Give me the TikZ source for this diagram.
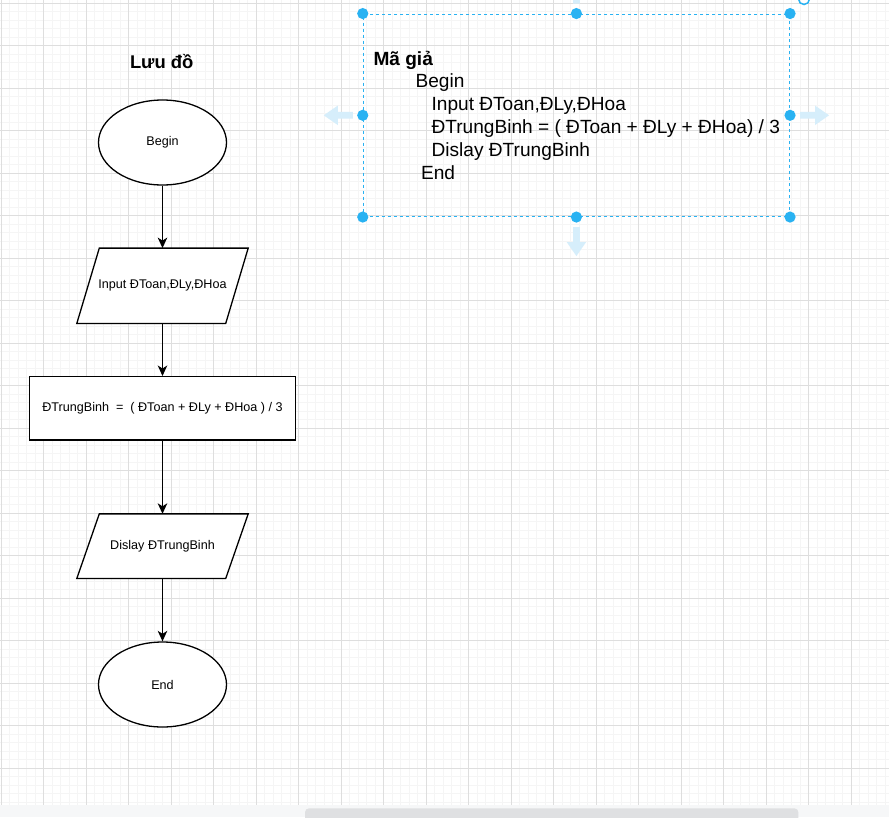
\documentclass[tikz,border=0pt]{standalone}
\usepackage{fontspec}
\setmainfont{Liberation Sans}
\usetikzlibrary{shapes.geometric,arrows.meta}
\definecolor{gridmajor}{RGB}{222,222,222}
\definecolor{gridminor}{RGB}{245,245,245}
\definecolor{selblue}{RGB}{41,178,242}
\definecolor{hintblue}{RGB}{214,238,251}
\definecolor{barbg}{RGB}{246,247,248}
\definecolor{thumbgray}{RGB}{223,224,226}
\tikzset{
  shapeline/.style={draw=black, line width=1.3pt},
  flowtext/.style={font=\fontsize{12.6}{15}\selectfont, text=black, inner sep=0pt},
  ellipsebox/.style={ellipse, shapeline, fill=white, minimum width=128pt, minimum height=85pt, flowtext},
  rectbox/.style={rectangle, shapeline, fill=white, flowtext},
  paraframe/.style={rectangle, flowtext, minimum width=171pt},
  flow/.style={line width=1.4pt, -{Stealth[length=10.5pt,width=9.5pt,inset=3pt]}},
  titletext/.style={font=\fontsize{18.4}{22}\selectfont\bfseries, inner sep=0pt},
  codetext/.style={font=\fontsize{19.1}{22}\selectfont, inner sep=0pt, anchor=base west},
  handle/.style={fill=selblue},
  hint/.pic={\fill[hintblue] (0,-3.4) -- (15,-3.4) -- (15,-9.7) -- (29,0) -- (15,9.7) -- (15,3.4) -- (0,3.4) -- cycle;}
}
\begin{document}
\begin{tikzpicture}[x=1pt,y=-1pt]
\useasboundingbox (0,0) rectangle (889,817);
\clip (0,0) rectangle (889,817);
\fill[white] (0,0) rectangle (889,817);
% grid
\foreach \i in {0,...,104} \draw[gridminor, line width=0.7pt] ({1+8.5*\i},0) -- ({1+8.5*\i},805);
\foreach \i in {0,...,94} \draw[gridminor, line width=0.7pt] (0,{3+8.5*\i}) -- (889,{3+8.5*\i});
\foreach \i in {0,...,20} \draw[gridmajor, line width=1pt] ({1+42.5*\i},0) -- ({1+42.5*\i},805);
\foreach \i in {0,...,18} \draw[gridmajor, line width=1pt] (0,{3+42.5*\i}) -- (889,{3+42.5*\i});
% bottom scrollbar
\fill[barbg] (0,805) rectangle (889,817);
\fill[thumbgray, rounded corners=4pt] (305,808.3) rectangle (798.4,822);

% flowchart
\node[titletext] (title) at (161.7,61.5) {Lưu đồ};
\node[ellipsebox] (begin) at (162.5,142.5) {Begin};
\node[paraframe, minimum height=75pt] (in) at (162.5,285.8) {};
\fill[white] ([xshift=22.5pt]in.north west) -- (in.north east) -- ([xshift=-22.5pt]in.south east) -- (in.south west) -- cycle;
\draw[shapeline] ([xshift=22.5pt]in.north west) -- (in.north east) -- ([xshift=-22.5pt]in.south east) -- (in.south west) -- cycle;
\node[flowtext] (intext) at (in.center) {Input ĐToan,ĐLy,ĐHoa};
\node[rectbox, minimum width=266pt, minimum height=63.3pt] (calc) at (162.5,408.3) {ĐTrungBinh\ \ =\ \ ( ĐToan + ĐLy + ĐHoa ) / 3};
\node[paraframe, minimum height=64.3pt] (disp) at (162.5,546.2) {};
\fill[white] ([xshift=22.5pt]disp.north west) -- (disp.north east) -- ([xshift=-22.5pt]disp.south east) -- (disp.south west) -- cycle;
\draw[shapeline] ([xshift=22.5pt]disp.north west) -- (disp.north east) -- ([xshift=-22.5pt]disp.south east) -- (disp.south west) -- cycle;
\node[flowtext] (disptext) at (disp.center) {Dislay ĐTrungBinh};
\node[ellipsebox] (end) at (162.5,684.5) {End};

\draw[flow] (begin.south) -- (in.north);
\draw[flow] (in.south) -- (calc.north);
\draw[flow] (calc.south) -- (disp.north);
\draw[flow] (disp.south) -- (end.north);

% pseudocode
\node[codetext] (c0) at (373.3,65) {\bfseries Mã giả};
\node[codetext] (c1) at (415.4,87.5) {Begin};
\node[codetext] (c2) at (431.4,110.5) {Input ĐToan,ĐLy,ĐHoa};
\node[codetext] (c3) at (431.4,133.3) {ĐTrungBinh = ( ĐToan + ĐLy + ĐHoa) / 3};
\node[codetext] (c4) at (431.4,156.3) {Dislay ĐTrungBinh};
\node[codetext] (c5) at (420.9,179) {End};

% selection
\node[draw=selblue, line width=1.5pt, dash pattern=on 3.5pt off 2.5pt, minimum width=425.8pt, minimum height=202pt, inner sep=0pt] (sel) at (576.4,115.3) {};
\foreach \a in {north west,north,north east,west,east,south west,south,south east}
  \fill[handle] (sel.\a) circle (5.6);
\draw[selblue, line width=1.5pt] (804,-1) circle (5.5);
\pic[rotate=-90] at ([yshift=-10pt]sel.south) {hint};
\pic[rotate=90] at ([yshift=10pt]sel.north) {hint};
\pic at ([xshift=10pt]sel.east) {hint};
\pic[rotate=180] at ([xshift=-10pt]sel.west) {hint};
\end{tikzpicture}
\end{document}
